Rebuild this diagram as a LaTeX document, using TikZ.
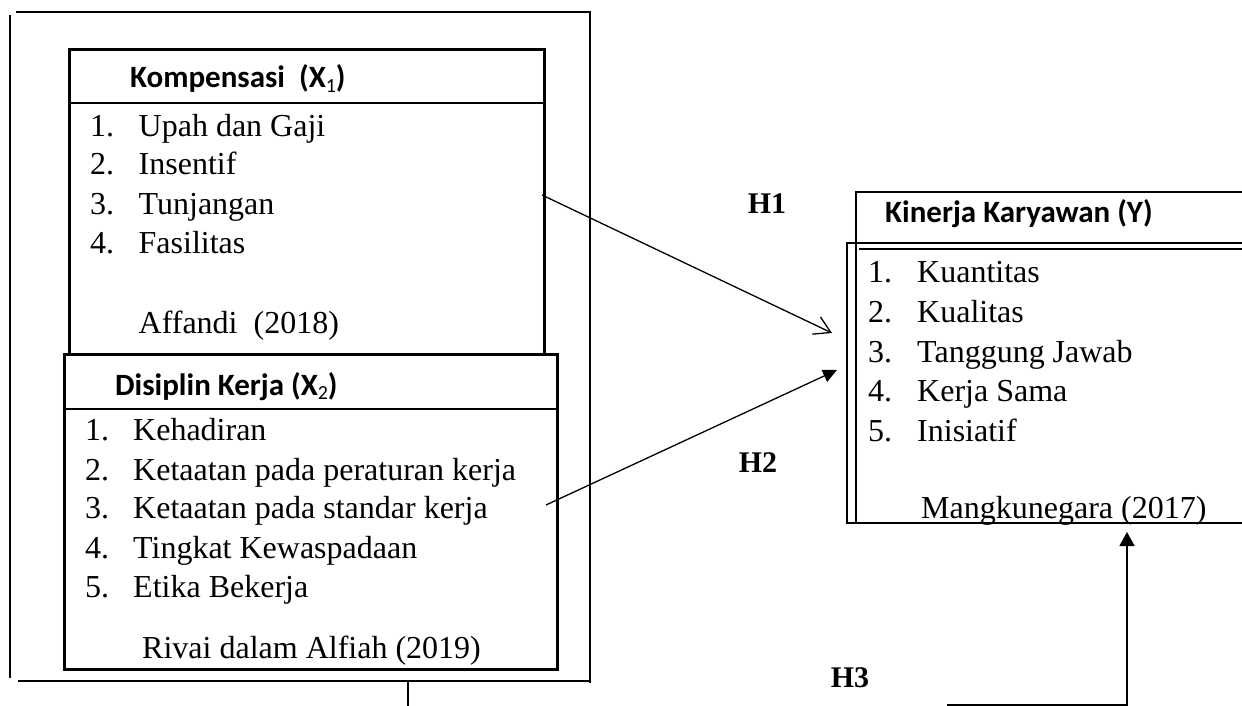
\documentclass[tikz,border=0pt]{standalone}
\usepackage{fontspec}
\setmainfont{Liberation Serif}
\newfontfamily\hdfont{Carlito}
\usetikzlibrary{arrows.meta}
\newcommand\subnum[1]{\raisebox{-0.15em}{\mdseries\fontsize{20bp}{20bp}\selectfont #1}}
\tikzset{
  boxline/.style={line width=2.6bp},
  frameline/.style={line width=1.3bp},
  conn/.style={line width=1.3bp},
  thinline/.style={line width=1.2bp},
  itemtxt/.style={anchor=base west, inner sep=0pt, font=\fontsize{32bp}{38bp}\selectfont},
  headtxt/.style={anchor=base west, inner sep=0pt, font=\hdfont\bfseries\fontsize{31bp}{36bp}\selectfont},
  hlabel/.style={anchor=center, inner sep=0pt, font=\bfseries\fontsize{30bp}{36bp}\selectfont},
  boxnode/.style={draw, boxline, anchor=north west, inner sep=0pt},
}
\begin{document}
\begin{tikzpicture}[x=1bp,y=-1bp]
\useasboundingbox (0,0) rectangle (1242,706);
\fill[white] (0,0) rectangle (1242,706);

% outer frame
\coordinate (ftl) at (16,12);
\coordinate (ftr) at (590,12);
\coordinate (fbr) at (590,683);
\coordinate (flt) at (10,15);
\coordinate (flb) at (10,678);
\coordinate (fbl) at (18,681);
\coordinate (fbr2) at (590,681);
\coordinate (stubt) at (408,681);
\coordinate (stubb) at (408,710);
\draw[frameline] (ftl) -- (ftr) -- (fbr);
\draw[frameline] (flt) -- (flb);
\draw[frameline] (fbl) -- (fbr2);
\draw[frameline] (stubt) -- (stubb);

% Kompensasi box
\node[boxnode, minimum width=475bp, minimum height=305bp] (komp) at (68,48) {};
\draw[boxline] (komp.west |- 0,103) -- (komp.east |- 0,103);
\node[headtxt] (kh) at (130,88) {Kompensasi\ \ (X\subnum{1})};
\node[itemtxt] (kn1) at (90,137) {1.};
\node[itemtxt] (kt1) at (138.5,137) {Upah dan Gaji};
\node[itemtxt] (kn2) at (90,175) {2.};
\node[itemtxt] (kt2) at (138.5,175) {Insentif};
\node[itemtxt] (kn3) at (90,215) {3.};
\node[itemtxt] (kt3) at (138.5,215) {Tunjangan};
\node[itemtxt] (kn4) at (90,253) {4.};
\node[itemtxt] (kt4) at (138.5,253) {Fasilitas};
\node[itemtxt] (ksrc) at (138.5,333) {Affandi\ \ (2018)};

% Disiplin box
\node[boxnode, fill=white, minimum width=493bp, minimum height=315bp] (disc) at (63,353) {};
\draw[boxline] (disc.west |- 0,409) -- (disc.east |- 0,409);
\node[headtxt] (dh) at (115,395) {Disiplin Kerja (X\subnum{2})};
\node[itemtxt] (dn1) at (85,440) {1.};
\node[itemtxt] (dt1) at (133,440) {Kehadiran};
\node[itemtxt] (dn2) at (85,480) {2.};
\node[itemtxt] (dt2) at (133,480) {Ketaatan pada peraturan kerja};
\node[itemtxt] (dn3) at (85,518) {3.};
\node[itemtxt] (dt3) at (133,518) {Ketaatan pada standar kerja};
\node[itemtxt] (dn4) at (85,558) {4.};
\node[itemtxt] (dt4) at (133,558) {Tingkat Kewaspadaan};
\node[itemtxt] (dn5) at (85,597) {5.};
\node[itemtxt] (dt5) at (133,597) {Etika Bekerja};
\node[itemtxt] (dsrc) at (142,658) {Rivai dalam Alfiah (2019)};

% Kinerja box (runs past the right edge)
\coordinate (yh1) at (856,192);
\coordinate (yh2) at (1260,192);
\coordinate (yb1) at (847,243);
\coordinate (yb2) at (1260,243);
\coordinate (yb3) at (847,523);
\coordinate (yb4) at (1260,523);
\coordinate (yi1) at (856,523);
\coordinate (yt1) at (859,249);
\coordinate (yt2) at (1260,249);
\draw[boxline] (yh2) -- (yh1) -- (yi1);
\draw[boxline] (yb2) -- (yb1) -- (yb3) -- (yb4);
\draw[thinline] (yt1) -- (yt2);
\node[headtxt] (yh) at (885,223) {Kinerja Karyawan (Y)};
\node[itemtxt] (yn1) at (868,282) {1.};
\node[itemtxt] (yt1t) at (917,282) {Kuantitas};
\node[itemtxt] (yn2) at (868,322) {2.};
\node[itemtxt] (yt2t) at (917,322) {Kualitas};
\node[itemtxt] (yn3) at (868,362) {3.};
\node[itemtxt] (yt3t) at (917,362) {Tanggung Jawab};
\node[itemtxt] (yn4) at (868,401) {4.};
\node[itemtxt] (yt4t) at (917,401) {Kerja Sama};
\node[itemtxt] (yn5) at (868,441) {5.};
\node[itemtxt] (yt5t) at (917,441) {Inisiatif};
\node[itemtxt] (ysrc) at (921,518) {Mangkunegara (2017)};

% hypothesis labels
\node[hlabel] (h1) at (767,204) {H1};
\node[hlabel] (h2) at (758,463) {H2};
\node[hlabel] (h3) at (850,678) {H3};

% connectors
\coordinate (h1s) at (542,195);
\coordinate (h1e) at (832,333);
\draw[conn, -{Straight Barb[length=16bp,width=19bp]}] (h1s) -- (h1e);
\coordinate (h2s) at (546,505);
\coordinate (h2e) at (837,370);
\draw[conn, -{Triangle[length=14bp,width=13bp]}] (h2s) -- (h2e);
\coordinate (h3s) at (947,705);
\coordinate (h3c) at (1127,705);
\coordinate (h3e) at (1127,532);
\draw[conn, -{Triangle[length=14bp,width=15bp]}] (h3s) -- (h3c) -- (h3e);
\end{tikzpicture}
\end{document}
